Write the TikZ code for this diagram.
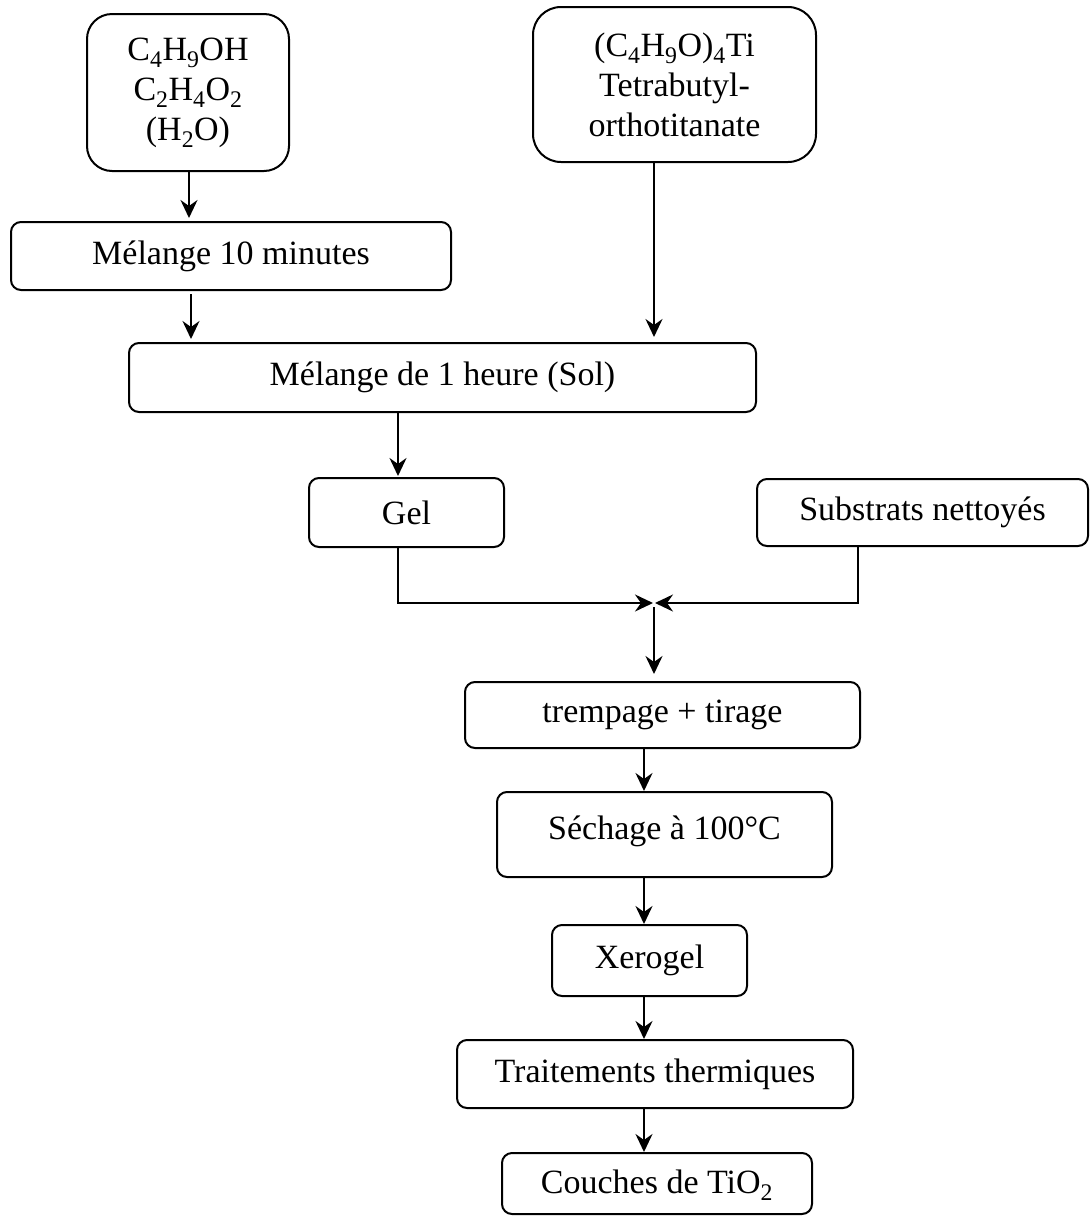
\documentclass[tikz,border=0pt]{standalone}
\usepackage{fontspec}
\setmainfont{Liberation Serif}
\usetikzlibrary{arrows.meta,calc}
\begin{document}
\begin{tikzpicture}[x=1pt,y=-1pt,
  box/.style={draw,line width=2pt,rectangle,rounded corners=10pt,inner sep=0pt,align=center,
    font=\fontsize{34}{40}\selectfont},
  arr/.style={line width=2.2pt,-{Stealth[length=18pt,width=17pt,inset=6pt]}}]
\useasboundingbox (0,0) rectangle (1090,1216);
\node[box,rounded corners=25pt,minimum width=202pt,minimum height=157pt] (b1) at (188,92.5)
  {C\textsubscript{4}H\textsubscript{9}OH\\C\textsubscript{2}H\textsubscript{4}O\textsubscript{2}\\(H\textsubscript{2}O)};
\node[box,rounded corners=28pt,minimum width=283pt,minimum height=155pt] (b4) at (674.5,84.5)
  {(C\textsubscript{4}H\textsubscript{9}O)\textsubscript{4}Ti\\Tetrabutyl-\\orthotitanate};
\node[box,minimum width=440pt,minimum height=68pt] (b2) at (231,256) {Mélange 10 minutes};
\node[box,minimum width=627pt,minimum height=69pt] (b3) at (442.5,377.5) {Mélange de 1 heure (Sol)};
\node[box,minimum width=195pt,minimum height=69pt] (gel) at (406.5,512.5) {Gel};
\node[box,minimum width=331pt,minimum height=67pt] (sub) at (922.5,512.5) {Substrats nettoyés};
\node[box,minimum width=395pt,minimum height=66pt] (tr) at (662.5,715) {trempage + tirage};
\node[box,minimum width=335pt,minimum height=85pt,text depth=14pt] (se) at (664.5,834.5) {Séchage à 100°C};
\node[box,minimum width=195pt,minimum height=71pt] (xe) at (649.5,960.5) {Xerogel};
\node[box,minimum width=396pt,minimum height=68pt] (th) at (655,1074) {Traitements thermiques};
\node[box,minimum width=310pt,minimum height=61pt,text depth=4pt] (co) at (657,1183.5) {Couches de TiO\textsubscript{2}};
\coordinate (J) at (654,603);
% connectors
\draw[arr,shorten >=3pt] ([xshift=1pt]b1.south) -- ([xshift=1pt]b1.south |- b2.north);
\draw[arr,shorten >=3pt] ([xshift=-40pt,yshift=-3pt]b2.south) -- ([xshift=-40pt]b2.south |- b3.north);
\draw[arr,shorten >=5pt] ([xshift=-20.5pt]b4.south) -- ([xshift=-20.5pt]b4.south |- b3.north);
\draw[arr,shorten >=1pt] ([xshift=-8.5pt]gel.north |- b3.south) -- ([xshift=-8.5pt]gel.north);
\draw[arr,shorten >=1pt] ([xshift=-8.5pt]gel.south) |- (J);
\draw[arr,shorten >=1pt] ([xshift=-64.5pt]sub.south) |- (J);
\draw[arr,shorten >=7pt] ([yshift=-4pt]J) -- (J |- tr.north);
\draw[arr] ([xshift=-18.5pt]tr.south) -- ([xshift=-18.5pt]tr.south |- se.north);
\draw[arr] ([xshift=-20.5pt]se.south) -- ([xshift=-20.5pt]se.south |- xe.north);
\draw[arr] ([xshift=-5.5pt]xe.south) -- ([xshift=-5.5pt]xe.south |- th.north);
\draw[arr] ([xshift=-11pt]th.south) -- ([xshift=-11pt]th.south |- co.north);
\end{tikzpicture}
\end{document}
